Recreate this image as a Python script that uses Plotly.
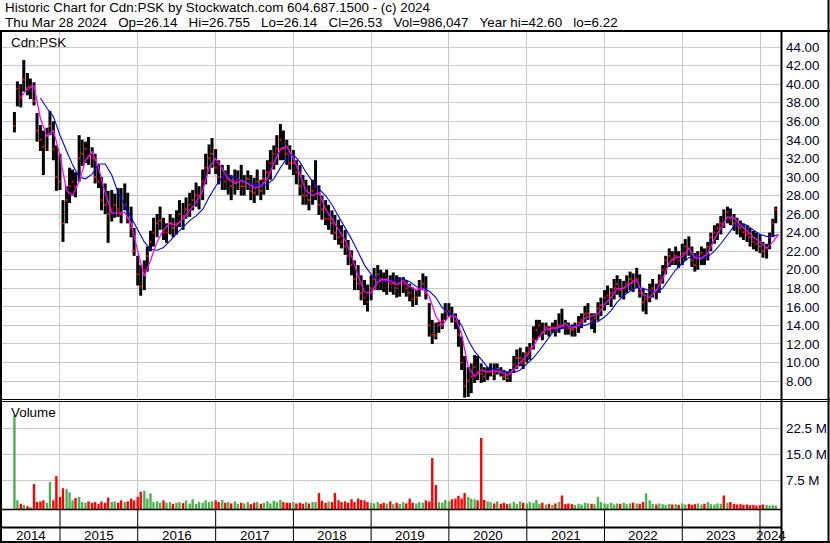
import plotly.graph_objects as go
import pandas as pd

# ---------------- data ----------------
period_start = "2014-06-01"   # semi-monthly periods (1st / 15th)
n_periods = 236

high = [
37.0, 40.3, 40.0, 42.6, 41.2, 40.6, 40.2, 36.9, 35.6, 35.0,
35.3, 37.1, 36.0, 33.4, 32.5, 27.5, 29.0, 31.0, 30.8, 30.5,
34.5, 34.0, 33.8, 34.3, 33.2, 32.5, 31.3, 30.0, 29.3, 28.5,
28.6, 28.2, 28.8, 28.8, 29.3, 28.3, 26.8, 24.5, 21.5, 20.5,
21.0, 22.5, 24.2, 25.6, 26.0, 26.8, 25.6, 25.0, 26.0, 25.6,
26.4, 27.5, 27.2, 27.8, 28.3, 28.6, 29.4, 29.0, 30.8, 32.5,
33.5, 34.2, 33.0, 31.8, 31.3, 30.7, 31.3, 30.2, 30.8, 30.7,
31.3, 30.2, 30.7, 30.2, 29.9, 30.8, 29.7, 30.8, 31.8, 32.9,
33.4, 34.5, 35.7, 35.0, 34.0, 33.4, 32.9, 31.8, 31.3, 30.2,
29.7, 29.1, 29.7, 31.8, 29.1, 28.0, 27.5, 27.0, 26.4, 25.9,
25.4, 24.8, 24.3, 23.2, 22.1, 21.0, 20.5, 19.4, 18.9, 18.4,
19.4, 20.2, 20.5, 20.0, 19.7, 20.0, 19.4, 19.7, 19.4, 19.2,
19.2, 18.9, 18.5, 18.1, 17.8, 18.9, 19.6, 19.3, 16.4, 14.6,
14.3, 14.4, 15.3, 16.4, 16.4, 16.0, 15.3, 14.6, 12.8, 10.7,
9.5, 9.9, 10.8, 10.7, 9.9, 9.5, 9.5, 9.9, 9.9, 9.9,
9.5, 9.2, 9.0, 9.3, 10.7, 11.4, 11.6, 11.1, 11.7, 12.1,
13.9, 14.6, 14.6, 14.3, 14.3, 13.9, 14.3, 14.6, 15.3, 15.8,
14.6, 14.3, 14.1, 14.3, 15.0, 15.3, 16.1, 16.4, 15.3, 15.3,
16.5, 17.0, 17.8, 18.3, 18.0, 19.0, 19.4, 19.0, 18.8, 19.4,
19.8, 19.6, 20.2, 19.5, 18.0, 17.5, 18.5, 19.0, 18.5, 19.5,
20.5, 21.5, 22.3, 22.0, 22.5, 22.0, 22.8, 23.3, 23.6, 22.5,
21.8, 22.0, 22.5, 22.3, 23.0, 24.0, 24.8, 25.0, 25.8, 26.5,
26.8, 26.6, 26.0, 25.6, 25.3, 25.0, 24.8, 24.5, 24.2, 24.0,
23.8, 23.0, 22.8, 24.0, 25.5, 26.8]

low = [
34.8, 37.6, 37.5, 39.2, 38.8, 38.4, 37.7, 33.8, 32.8, 30.2,
32.8, 34.5, 31.8, 28.5, 28.6, 23.0, 25.0, 27.2, 28.0, 27.8,
29.5, 31.2, 31.5, 31.3, 31.0, 29.3, 28.8, 26.4, 26.0, 22.9,
25.2, 25.6, 25.7, 25.0, 26.4, 25.0, 23.5, 21.5, 18.3, 17.2,
17.8, 19.8, 22.0, 22.5, 23.5, 24.3, 23.2, 22.9, 23.8, 23.5,
23.8, 24.6, 24.3, 25.5, 25.7, 26.4, 26.8, 26.5, 27.5, 29.2,
30.3, 31.0, 30.3, 29.2, 28.6, 28.6, 28.1, 27.5, 28.1, 28.6,
28.0, 28.0, 28.6, 27.5, 27.2, 28.0, 27.5, 28.1, 28.6, 29.7,
30.8, 31.3, 31.8, 31.8, 31.3, 30.8, 30.2, 29.2, 28.0, 27.0,
27.0, 26.4, 27.0, 27.5, 25.9, 25.4, 24.8, 24.3, 23.8, 23.2,
22.7, 22.3, 21.6, 20.5, 19.4, 17.8, 17.8, 16.7, 16.2, 15.5,
16.7, 17.8, 17.8, 17.8, 17.6, 17.3, 17.6, 17.3, 17.0, 17.1,
17.5, 17.1, 16.6, 16.0, 16.2, 17.1, 17.8, 16.8, 12.8, 12.0,
12.5, 13.2, 13.6, 14.6, 15.0, 14.3, 13.6, 11.7, 9.2, 6.22,
6.3, 6.7, 7.8, 8.1, 7.8, 7.9, 8.1, 8.5, 8.1, 8.7,
8.5, 8.1, 7.9, 7.9, 8.9, 9.3, 9.6, 9.3, 10.0, 10.3,
11.4, 12.4, 12.8, 12.4, 13.0, 12.8, 13.2, 12.8, 13.2, 13.6,
13.0, 13.0, 12.8, 12.8, 13.2, 13.7, 14.3, 14.6, 13.6, 13.2,
14.5, 15.0, 15.6, 16.2, 16.0, 16.8, 17.3, 17.0, 16.8, 17.5,
17.8, 17.6, 18.0, 17.0, 15.5, 15.2, 16.5, 17.0, 16.8, 17.5,
18.5, 19.5, 20.3, 20.5, 20.5, 20.2, 20.5, 21.0, 21.5, 20.3,
19.8, 20.0, 20.5, 20.5, 21.0, 22.0, 22.8, 23.2, 23.8, 24.5,
25.0, 24.8, 24.2, 23.8, 23.5, 23.2, 23.0, 22.5, 22.2, 22.0,
21.8, 21.3, 21.2, 22.2, 23.5, 25.0]

close = [
35.5, 39.5, 38.5, 40.5, 39.6, 39.8, 38.2, 35.0, 34.0, 33.2,
34.5, 35.5, 33.0, 30.0, 29.5, 25.0, 27.5, 29.0, 29.5, 29.0,
32.0, 32.5, 33.0, 32.3, 32.0, 30.0, 29.5, 27.5, 27.0, 26.0,
26.5, 27.0, 26.5, 26.0, 27.0, 25.5, 24.5, 22.0, 19.5, 18.2,
20.0, 21.5, 23.0, 24.0, 25.0, 25.3, 24.0, 24.0, 25.0, 24.5,
25.0, 26.0, 25.8, 26.5, 27.0, 27.5, 28.0, 28.0, 29.5, 31.0,
32.0, 32.5, 31.0, 30.0, 30.0, 29.5, 29.8, 29.0, 29.5, 29.8,
29.0, 29.0, 29.8, 28.5, 28.3, 29.5, 28.5, 29.8, 30.5, 31.5,
32.5, 33.0, 34.0, 33.0, 32.5, 31.5, 31.5, 30.5, 29.0, 28.0,
28.0, 27.5, 28.5, 29.0, 27.0, 26.5, 25.5, 25.5, 25.0, 24.0,
23.5, 23.0, 22.5, 21.5, 20.5, 19.0, 18.5, 17.5, 17.0, 16.5,
18.0, 19.0, 19.5, 19.0, 18.8, 19.0, 18.5, 18.5, 18.0, 18.5,
18.5, 18.0, 17.5, 16.8, 17.0, 18.0, 18.5, 17.5, 14.0, 13.0,
12.9, 14.0, 14.5, 15.5, 15.5, 15.0, 14.5, 13.0, 10.0, 7.5,
8.0, 8.5, 9.5, 9.0, 8.8, 8.5, 9.0, 9.0, 8.8, 9.3,
9.0, 8.5, 8.3, 8.8, 9.8, 10.5, 10.5, 10.0, 11.0, 11.5,
12.5, 13.5, 14.0, 13.3, 13.8, 13.5, 13.8, 13.6, 14.0, 13.9,
13.8, 13.7, 13.5, 13.8, 14.3, 14.6, 15.2, 15.3, 14.5, 14.8,
15.8, 16.2, 17.0, 17.2, 17.5, 18.0, 18.5, 17.8, 18.0, 18.5,
19.0, 18.8, 19.0, 17.5, 16.5, 16.8, 17.8, 18.0, 17.8, 18.8,
20.0, 21.0, 21.5, 21.2, 21.5, 21.0, 21.8, 22.5, 22.3, 21.0,
20.5, 21.5, 21.8, 21.5, 22.5, 23.5, 24.0, 24.5, 25.0, 24.8,
26.2, 25.5, 25.0, 24.8, 24.5, 24.0, 23.8, 23.5, 23.0, 22.8,
22.5, 22.0, 22.3, 23.5, 25.0, 26.5]

volume_m = [
27.0, 2.5, 1.5, 1.2, 0.8, 0.6, 7.2, 2.0, 2.2, 2.5,
1.8, 7.8, 2.5, 9.5, 3.5, 6.0, 5.8, 4.8, 2.5, 3.2,
3.5, 2.0, 1.8, 2.2, 1.8, 2.0, 1.5, 2.2, 1.8, 3.3,
2.0, 2.2, 1.8, 2.5, 2.0, 2.2, 3.0, 2.5, 3.5, 5.0,
5.2, 3.0, 4.5, 2.0, 2.2, 1.8, 2.5, 1.8, 2.0, 1.5,
1.8, 2.0, 1.7, 2.5, 1.6, 2.8, 1.5, 2.0, 1.8, 2.5,
2.0, 2.2, 2.5, 2.0, 2.6, 1.8, 2.0, 1.6, 2.2, 1.5,
1.8, 1.6, 2.0, 1.4, 1.8, 2.0, 1.5, 1.8, 2.2, 1.6,
2.4, 2.0, 2.6, 2.0, 1.8, 1.8, 2.0, 1.6, 1.8, 1.5,
2.0, 1.6, 2.0, 2.0, 4.6, 2.4, 1.8, 2.2, 2.0, 4.6,
2.5, 2.0, 2.2, 1.8, 2.8, 2.0, 3.0, 2.6, 2.5, 2.0,
1.8, 1.6, 2.0, 1.5, 1.8, 1.6, 2.2, 1.4, 1.8, 1.5,
2.0, 1.6, 3.0, 1.8, 1.6, 2.0, 1.8, 2.5, 2.2, 14.7,
6.9, 2.0, 1.8, 2.6, 2.2, 2.8, 3.0, 3.8, 3.0, 4.6,
3.5, 3.0, 2.8, 2.5, 20.5, 2.6, 2.2, 2.0, 1.6, 2.2,
1.5, 1.8, 1.4, 1.6, 2.0, 1.5, 2.2, 1.8, 1.6, 2.0,
1.8, 2.6, 1.5, 1.8, 1.3, 1.5, 1.2, 1.6, 2.0, 3.9,
1.4, 1.6, 1.4, 1.2, 1.5, 1.3, 1.8, 1.6, 1.5, 1.4,
3.5, 2.0, 1.6, 1.4, 1.8, 1.3, 1.6, 1.5, 1.8, 1.4,
1.6, 1.8, 1.6, 1.5, 2.0, 4.5, 2.5, 1.5, 1.3, 1.6,
1.4, 1.2, 1.5, 1.3, 1.4, 1.2, 1.6, 1.3, 1.5, 1.2,
1.4, 1.6, 1.3, 1.5, 2.0, 1.4, 1.3, 1.6, 1.5, 3.9,
1.8, 2.0, 1.5, 1.3, 1.4, 1.2, 1.3, 1.1, 1.2, 1.0,
1.1, 1.3, 1.2, 1.0, 1.1, 1.0]

# magenta (short) moving average, monthly from 2014-07
ma_fast_start = "2014-07-01"
ma_fast = [
38.6, 39.5, 39.8, 36.3, 34.4, 35.0,
32.3, 28.5, 28.0, 29.5, 31.8, 32.7, 31.0, 28.3, 26.1, 26.1, 26.2, 25.0,
22.0, 19.3, 21.0, 23.0, 24.3, 25.0, 24.8, 25.5, 26.4, 27.2, 28.5, 31.0,
32.0, 30.8, 29.8, 29.3, 29.6, 29.3, 28.8, 29.0, 29.8, 31.5, 33.0, 33.3,
32.0, 30.3, 28.5, 28.0, 28.3, 26.5, 25.5, 24.3, 23.2, 21.5, 19.3, 17.6,
17.5, 18.7, 19.0, 18.8, 18.4, 18.8, 18.2, 17.8, 18.0, 17.1, 15.0, 14.0,
15.0, 15.0, 13.0, 9.5, 8.5, 9.2, 9.0, 9.1, 9.0, 8.6, 9.2, 10.0,
10.7, 11.8, 12.8, 13.6, 13.7, 13.8, 14.2, 13.7, 14.0, 14.8, 15.0, 15.2,
16.3, 17.0, 18.0, 18.0, 18.5, 18.9, 17.3, 17.0, 17.8, 19.0, 20.8, 21.3,
21.4, 22.3, 21.3, 21.2, 21.8, 23.3, 24.5, 25.7, 25.6, 24.8, 24.2, 23.5,
23.0, 22.3, 23.0]
# blue (long) moving average, monthly from 2014-10
ma_slow_start = "2014-10-01"
ma_slow = [
38.5, 37.4, 36.5,
34.5, 32.8, 31.3, 30.0, 29.8, 30.3, 31.4, 31.4, 30.2, 28.3, 26.9, 25.7,
24.3, 23.0, 22.2, 22.1, 22.4, 23.1, 23.9, 24.6, 25.3, 25.8, 26.5, 27.8,
29.0, 30.0, 30.2, 29.9, 29.6, 29.4, 29.2, 29.0, 29.2, 29.8, 31.0, 32.0,
32.4, 31.6, 30.5, 29.5, 28.7, 28.0, 27.0, 25.8, 24.6, 23.3, 21.9, 20.5,
19.5, 19.0, 18.7, 18.8, 18.9, 19.0, 18.7, 18.2, 17.9, 17.7, 17.0, 15.9,
15.4, 15.0, 14.0, 12.4, 11.2, 10.3, 9.5, 9.3, 9.2, 9.0, 8.9, 9.2,
9.8, 10.5, 11.3, 12.3, 13.2, 13.6, 13.8, 13.9, 14.0, 14.0, 14.3, 14.4,
14.9, 15.6, 16.5, 17.2, 17.7, 18.1, 18.0, 17.7, 17.6, 18.0, 19.0, 20.0,
20.7, 21.3, 21.5, 21.4, 21.4, 22.0, 22.8, 23.8, 24.7, 25.0, 24.8, 24.3,
23.8, 23.6, 23.6]
last_date = "2024-03-28"
ma_fast_last = 23.8
ma_slow_last = 23.8

years = ["2014", "2015", "2016", "2017", "2018", "2019", "2020", "2021", "2022", "2023", "2024"]
price_ticks = [8, 10, 12, 14, 16, 18, 20, 22, 24, 26, 28, 30, 32, 34, 36, 38, 40, 42, 44]
vol_ticks_m = [7.5, 15.0, 22.5]
vol_tick_labels = ["7.5 M", "15.0 M", "22.5 M"]

header1 = "Historic Chart for Cdn:PSK by Stockwatch.com 604.687.1500 - (c) 2024"
header2_fields = ["Thu Mar 28 2024", "Op=26.14", "Hi=26.755", "Lo=26.14", "Cl=26.53",
                  "Vol=986,047", "Year hi=42.60", "lo=6.22"]

# ---------------- layout helpers ----------------
W, H = 830, 543
def fx(px): return px / W
def fy(py): return 1 - py / H

FONT = "Liberation Sans, Arial, sans-serif"
FS = 13.4
GRID = "#c8c8c8"

periods = pd.date_range(period_start, periods=n_periods, freq="SMS")
fast_dates = list(pd.date_range(ma_fast_start, periods=len(ma_fast), freq="MS")) + [pd.Timestamp(last_date)]
slow_dates = list(pd.date_range(ma_slow_start, periods=len(ma_slow), freq="MS")) + [pd.Timestamp(last_date)]

x_range = [pd.Timestamp("2014-04-03 17:00"), pd.Timestamp("2024-04-08 14:00")]
year_starts = [pd.Timestamp(f"{y}-01-01") for y in years[1:]]

fig = go.Figure()

# price high-low bars
bx, by = [], []
for d, h, l in zip(periods, high, low):
    bx += [d, d, None]
    by += [l, h, None]
fig.add_trace(go.Scatter(x=bx, y=by, mode="lines", line=dict(color="black", width=3),
                         xaxis="x", yaxis="y", hoverinfo="skip"))
fig.add_trace(go.Scatter(x=periods, y=close, mode="markers",
                         marker=dict(symbol="square", size=2, color="#ff0000", line=dict(width=0)),
                         xaxis="x", yaxis="y", hoverinfo="skip"))
fig.add_trace(go.Scatter(x=slow_dates, y=ma_slow + [ma_slow_last], mode="lines",
                         line=dict(color="#0000ff", width=1.1), xaxis="x", yaxis="y"))
fig.add_trace(go.Scatter(x=fast_dates, y=ma_fast + [ma_fast_last], mode="lines",
                         line=dict(color="#ff00ff", width=1.3), xaxis="x", yaxis="y"))

# volume
vcolors = []
for i, c in enumerate(close):
    if i == 0 or c >= close[i - 1]:
        vcolors.append("#4caf50")
    else:
        vcolors.append("#ff0000")
vol_base = -0.865e6
fig.add_trace(go.Bar(x=periods, y=[v * 1e6 for v in volume_m], base=vol_base,
                     marker=dict(color=vcolors, line=dict(width=0)),
                     xaxis="x2", yaxis="y2", hoverinfo="skip"))

xcommon = dict(type="date", range=x_range, domain=[fx(2), fx(781)], showticklabels=False,
               tickvals=year_starts, showgrid=True, gridcolor=GRID, gridwidth=1,
               zeroline=False, showline=False, ticks="")

fig.update_layout(
    width=W, height=H, margin=dict(l=0, r=0, t=0, b=0),
    paper_bgcolor="white", plot_bgcolor="white", showlegend=False, bargap=0.2,
    xaxis=dict(**xcommon, anchor="y"),
    xaxis2=dict(**xcommon, anchor="y2", matches="x"),
    yaxis=dict(domain=[fy(399), fy(32)], range=[6.07, 45.62], side="right", anchor="x",
               tickvals=price_ticks, ticktext=[f"{v:.2f}" for v in price_ticks],
               showgrid=True, gridcolor=GRID, gridwidth=1, zeroline=False, ticks="",
               ticklabelstandoff=4, tickfont=dict(family=FONT, size=FS, color="#000022")),
    yaxis2=dict(domain=[fy(509), fy(402)], range=[vol_base, 30e6], side="right", anchor="x2",
                tickvals=[v * 1e6 for v in vol_ticks_m], ticktext=vol_tick_labels,
                showgrid=True, gridcolor=GRID, gridwidth=1, zeroline=False, ticks="",
                ticklabelstandoff=4, tickfont=dict(family=FONT, size=FS, color="#000022")),
)

ann = []
ann.append(dict(text=header1, x=fx(3), y=fy(8), xref="paper", yref="paper", xanchor="left",
                yanchor="middle", showarrow=False, font=dict(family=FONT, size=FS, color="black")))
ann.append(dict(text="\u00a0\u00a0\u00a0".join(header2_fields), x=fx(3), y=fy(22), xref="paper", yref="paper",
                xanchor="left", yanchor="middle", showarrow=False,
                font=dict(family=FONT, size=FS, color="black")))
ann.append(dict(text="Cdn:PSK", x=fx(9), y=fy(42), xref="paper", yref="paper", xanchor="left",
                yanchor="middle", showarrow=False, font=dict(family=FONT, size=FS, color="black")))
ann.append(dict(text="Volume", x=fx(9), y=fy(413), xref="paper", yref="paper", xanchor="left",
                yanchor="middle", showarrow=False, font=dict(family=FONT, size=FS, color="black")))
# year labels centred in each visible year span
bounds = [x_range[0]] + year_starts + [x_range[1]]
for i, y in enumerate(years):
    a, b = bounds[i], bounds[i + 1]
    mid = a + (b - a) / 2
    ann.append(dict(text=y, x=mid, y=fy(535), xref="x2", yref="paper", xanchor="center",
                    yanchor="middle", showarrow=False, font=dict(family=FONT, size=FS, color="black")))
fig.update_layout(annotations=ann)

shapes = []
def pline(x0, y0, x1, y1, w=2):
    shapes.append(dict(type="line", xref="paper", yref="paper", x0=fx(x0), y0=fy(y0),
                       x1=fx(x1), y1=fy(y1), line=dict(color="black", width=w)))
pline(0, 31, 830, 31, 2)          # header underline
pline(1, 30, 1, 543, 2)           # left border
pline(828.5, 0, 828.5, 543, 2)    # right border
pline(0, 542, 830, 542, 2)        # bottom border
pline(781.5, 30, 781.5, 543, 2)   # axis separator
pline(0, 399.5, 830, 399.5, 1)    # double line
pline(0, 401.5, 830, 401.5, 1)
pline(0, 509.5, 781, 509.5, 1.5)  # volume bottom
pline(0, 527.5, 781, 527.5, 2)    # row separator
for ys in year_starts:
    shapes.append(dict(type="line", xref="x2", yref="paper", x0=ys, x1=ys, y0=fy(509), y1=fy(542),
                       line=dict(color="black", width=1)))
fig.update_layout(shapes=shapes)

fig.write_html("out.html", config={"displayModeBar": False},
               post_script="document.body.style.margin='0px';document.body.style.overflow='hidden';")
